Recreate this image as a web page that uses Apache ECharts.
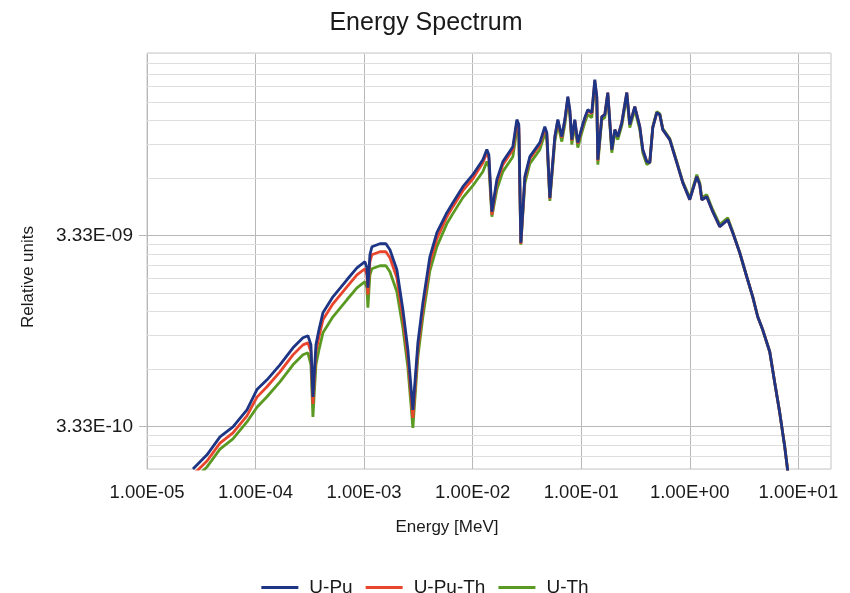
<!DOCTYPE html>
<html>
<head>
<meta charset="utf-8">
<title>Energy Spectrum</title>
<script src="https://cdn.jsdelivr.net/npm/echarts@6/dist/echarts.min.js"></script>
<style>
  html, body { margin: 0; padding: 0; background: #fff; }
  #chart { width: 850px; height: 593px; }
</style>
</head>
<body>
<div id="chart"></div>
<script>
// energy grid [MeV]
const energy = [
  2.65e-5, 3.57e-5, 4.70e-5, 6.19e-5, 8.33e-5, 1.030e-4, 1.274e-4, 1.677e-4, 2.211e-4, 2.733e-4,
  3.038e-4, 3.237e-4, 3.377e-4, 3.600e-4, 3.836e-4, 4.174e-4, 5.161e-4, 6.944e-4, 8.585e-4, 1.017e-3,
  1.061e-3, 1.084e-3, 1.131e-3, 1.180e-3, 1.398e-3, 1.588e-3, 1.729e-3, 2.004e-3, 2.277e-3, 2.532e-3,
  2.814e-3, 3.129e-3, 3.478e-3, 4.036e-3, 4.681e-3, 5.786e-3, 6.571e-3, 8.124e-3, 1.004e-2, 1.241e-2,
  1.351e-2, 1.410e-2, 1.503e-2, 1.670e-2, 1.897e-2, 2.345e-2, 2.553e-2, 2.663e-2, 2.779e-2, 3.025e-2,
  3.363e-2, 4.157e-2, 4.622e-2, 4.822e-2, 5.140e-2, 5.714e-2, 6.089e-2, 6.629e-2, 7.063e-2, 7.526e-2,
  7.852e-2, 8.193e-2, 8.731e-2, 9.305e-2, 1.013e-1, 1.079e-1, 1.150e-1, 1.252e-1, 1.334e-1, 1.392e-1,
  1.422e-1, 1.548e-1, 1.649e-1, 1.757e-1, 1.913e-1, 2.039e-1, 2.173e-1, 2.365e-1, 2.630e-1, 2.803e-1,
  3.116e-1, 3.464e-1, 3.692e-1, 4.019e-1, 4.282e-1, 4.563e-1, 4.968e-1, 5.294e-1, 5.642e-1, 6.543e-1,
  7.592e-1, 8.620e-1, 1.000, 1.160, 1.236, 1.290, 1.434, 1.628, 1.889, 2.238,
  2.489, 2.887, 3.349, 3.803, 4.228, 4.700, 5.453, 6.064, 6.742, 7.497,
  7.990
];

const upu = [
  2.00e-10, 2.37e-10, 2.94e-10, 3.32e-10, 4.07e-10, 5.20e-10, 5.85e-10, 7.01e-10, 8.60e-10, 9.70e-10,
  9.94e-10, 8.92e-10, 4.76e-10, 8.92e-10, 1.068e-9, 1.311e-9, 1.590e-9, 1.952e-9, 2.255e-9, 2.426e-9,
  2.255e-9, 1.773e-9, 2.638e-9, 2.906e-9, 3.013e-9, 3.013e-9, 2.803e-9, 2.202e-9, 1.360e-9, 8.39e-10,
  4.07e-10, 9.14e-10, 1.480e-9, 2.575e-9, 3.44e-9, 4.38e-9, 4.94e-9, 5.99e-9, 6.92e-9, 8.29e-9,
  9.36e-9, 8.81e-9, 4.43e-9, 6.52e-9, 8.10e-9, 9.70e-9, 1.344e-8, 1.265e-8, 3.05e-9, 6.76e-9,
  8.60e-9, 1.018e-8, 1.235e-8, 1.149e-8, 5.24e-9, 1.095e-8, 1.344e-8, 1.095e-8, 1.344e-8, 1.773e-8,
  1.515e-8, 1.056e-8, 1.344e-8, 1.018e-8, 1.220e-8, 1.376e-8, 1.515e-8, 1.462e-8, 2.176e-8, 1.773e-8,
  8.29e-9, 1.393e-8, 1.427e-8, 1.860e-8, 9.36e-9, 1.191e-8, 1.095e-8, 1.296e-8, 1.860e-8, 1.265e-8,
  1.571e-8, 1.235e-8, 9.36e-9, 8.10e-9, 8.00e-9, 1.220e-8, 1.462e-8, 1.427e-8, 1.191e-8, 1.056e-8,
  8.00e-9, 6.29e-9, 5.12e-9, 6.76e-9, 6.13e-9, 5.12e-9, 5.31e-9, 4.43e-9, 3.70e-9, 4.02e-9,
  3.44e-9, 2.703e-9, 2.024e-9, 1.590e-9, 1.250e-9, 1.068e-9, 8.20e-10, 5.64e-10, 3.93e-10, 2.61e-10,
  1.95e-10
];

const uputh = [
  1.86e-10, 2.20e-10, 2.73e-10, 3.09e-10, 3.79e-10, 4.75e-10, 5.38e-10, 6.44e-10, 7.90e-10, 8.91e-10,
  9.13e-10, 8.20e-10, 4.37e-10, 8.20e-10, 9.81e-10, 1.205e-9, 1.461e-9, 1.794e-9, 2.072e-9, 2.229e-9,
  2.072e-9, 1.629e-9, 2.424e-9, 2.639e-9, 2.736e-9, 2.736e-9, 2.545e-9, 2.000e-9, 1.235e-9, 7.62e-10,
  3.70e-10, 8.50e-10, 1.376e-9, 2.395e-9, 3.20e-9, 4.17e-9, 4.71e-9, 5.71e-9, 6.59e-9, 7.99e-9,
  9.02e-9, 8.49e-9, 4.27e-9, 6.29e-9, 7.81e-9, 9.35e-9, 1.296e-8, 1.219e-8, 3.01e-9, 6.60e-9,
  8.39e-9, 9.94e-9, 1.205e-8, 1.121e-8, 5.18e-9, 1.082e-8, 1.328e-8, 1.082e-8, 1.328e-8, 1.752e-8,
  1.497e-8, 1.043e-8, 1.328e-8, 1.006e-8, 1.205e-8, 1.360e-8, 1.497e-8, 1.444e-8, 2.150e-8, 1.752e-8,
  8.19e-9, 1.393e-8, 1.427e-8, 1.860e-8, 9.36e-9, 1.191e-8, 1.095e-8, 1.296e-8, 1.860e-8, 1.265e-8,
  1.571e-8, 1.235e-8, 9.36e-9, 8.10e-9, 8.00e-9, 1.220e-8, 1.462e-8, 1.427e-8, 1.191e-8, 1.056e-8,
  8.00e-9, 6.29e-9, 5.12e-9, 6.76e-9, 6.13e-9, 5.12e-9, 5.31e-9, 4.43e-9, 3.70e-9, 4.02e-9,
  3.44e-9, 2.703e-9, 2.024e-9, 1.590e-9, 1.250e-9, 1.068e-9, 8.20e-10, 5.64e-10, 3.93e-10, 2.61e-10,
  1.95e-10
];

const uth = [
  1.73e-10, 2.05e-10, 2.54e-10, 2.87e-10, 3.52e-10, 4.20e-10, 4.77e-10, 5.71e-10, 7.01e-10, 7.91e-10,
  8.10e-10, 7.01e-10, 3.74e-10, 7.01e-10, 8.39e-10, 1.030e-9, 1.250e-9, 1.534e-9, 1.772e-9, 1.907e-9,
  1.772e-9, 1.394e-9, 2.073e-9, 2.229e-9, 2.311e-9, 2.311e-9, 2.150e-9, 1.689e-9, 1.095e-9, 6.75e-10,
  3.28e-10, 7.72e-10, 1.251e-9, 2.176e-9, 2.91e-9, 3.84e-9, 4.33e-9, 5.25e-9, 6.06e-9, 7.17e-9,
  8.10e-9, 7.62e-9, 4.17e-9, 5.78e-9, 7.18e-9, 8.59e-9, 1.191e-8, 1.121e-8, 2.98e-9, 6.21e-9,
  7.90e-9, 9.36e-9, 1.135e-8, 1.056e-8, 5.05e-9, 1.031e-8, 1.266e-8, 1.031e-8, 1.266e-8, 1.670e-8,
  1.427e-8, 9.95e-9, 1.266e-8, 9.59e-9, 1.149e-8, 1.296e-8, 1.427e-8, 1.377e-8, 2.050e-8, 1.670e-8,
  7.81e-9, 1.343e-8, 1.376e-8, 1.793e-8, 9.02e-9, 1.148e-8, 1.056e-8, 1.249e-8, 1.793e-8, 1.219e-8,
  1.514e-8, 1.191e-8, 9.02e-9, 7.81e-9, 8.00e-9, 1.235e-8, 1.479e-8, 1.444e-8, 1.205e-8, 1.069e-8,
  8.10e-9, 6.37e-9, 5.24e-9, 6.92e-9, 6.28e-9, 5.24e-9, 5.44e-9, 4.54e-9, 3.79e-9, 4.12e-9,
  3.48e-9, 2.703e-9, 2.024e-9, 1.590e-9, 1.250e-9, 1.068e-9, 8.20e-10, 5.64e-10, 3.93e-10, 2.61e-10,
  1.95e-10
];

const seriesNames = ['U-Pu', 'U-Pu-Th', 'U-Th'];
const seriesColors = ['#1d3584', '#e8452c', '#5a9a22'];

const xTicks = [1e-5, 1e-4, 1e-3, 1e-2, 1e-1, 1e0, 1e1];
const yMajorTicks = [3.33e-10, 3.33e-9];
const yMinorTicks = [
  2.00e-10, 2.33e-10, 2.66e-10, 3.00e-10,
  6.66e-10, 9.99e-10, 1.332e-9, 1.665e-9, 1.998e-9, 2.331e-9, 2.664e-9, 2.997e-9,
  6.66e-9, 9.99e-9, 1.332e-8, 1.665e-8, 1.998e-8, 2.331e-8, 2.664e-8, 2.997e-8
];

const X_MIN = 1e-5, X_MAX = 20;
const Y_MIN = 1.998e-10, Y_MAX = 2.997e-8;

const FONT = 'Liberation Sans, Arial, sans-serif';
const TEXT = '#1a1a1a';

// 1.00E-05 style labels
function fmtExp(v) {
  const s = Number(v).toExponential(2).toUpperCase();
  const m = s.match(/^(.*)E([+-])(\d+)$/);
  if (!m) return s;
  return m[1] + 'E' + m[2] + (m[3].length < 2 ? '0' + m[3] : m[3]);
}

function pairs(ys) {
  return energy.map((e, i) => [e, ys[i]]);
}

const chart = echarts.init(document.getElementById('chart'), null, { renderer: 'canvas' });

chart.setOption({
  animation: false,
  backgroundColor: '#fff',
  textStyle: { fontFamily: FONT },
  title: {
    text: 'Energy Spectrum',
    left: 421,
    textAlign: 'center',
    top: 6,
    textStyle: { fontFamily: FONT, fontSize: 25, fontWeight: 'normal', color: TEXT }
  },
  legend: {
    bottom: -9,
    left: 'center',
    icon: 'rect',
    itemWidth: 37,
    itemHeight: 3,
    itemGap: 13,
    data: seriesNames,
    textStyle: { fontFamily: FONT, fontSize: 19, color: TEXT, padding: [0, 0, 0, 6] }
  },
  grid: {
    left: 147,
    right: 19,
    top: 53,
    bottom: 124,
    show: true,
    borderColor: '#c4c4c4',
    borderWidth: 1
  },
  xAxis: {
    type: 'log',
    min: X_MIN,
    max: X_MAX,
    name: 'Energy [MeV]',
    nameLocation: 'middle',
    nameGap: 50,
    nameTextStyle: { fontFamily: FONT, fontSize: 17, color: TEXT, padding: [0, 84, 0, 0] },
    axisLine: { show: false },
    axisTick: { show: false, customValues: xTicks },
    axisLabel: {
      customValues: xTicks,
      formatter: fmtExp,
      margin: 14,
      fontFamily: FONT,
      fontSize: 18.5,
      color: TEXT,
      showMinLabel: true,
      showMaxLabel: true
    },
    splitLine: { show: true, lineStyle: { color: '#b8b8b8', width: 1 } }
  },
  yAxis: [
    {
      type: 'log',
      min: Y_MIN,
      max: Y_MAX,
      name: 'Relative units',
      nameLocation: 'middle',
      nameGap: 110,
      nameTextStyle: { fontFamily: FONT, fontSize: 17, color: TEXT, padding: [0, 32, 0, 0] },
      axisLine: { show: false },
      axisTick: { show: true, length: 8, customValues: yMajorTicks, lineStyle: { color: '#b8b8b8' } },
      axisLabel: {
        customValues: yMajorTicks,
        formatter: fmtExp,
        margin: 14,
        fontFamily: FONT,
        fontSize: 19,
        color: TEXT
      },
      splitLine: { show: true, lineStyle: { color: '#b8b8b8', width: 1 } },
      z: 3
    },
    {
      type: 'log',
      min: Y_MIN,
      max: Y_MAX,
      position: 'left',
      axisLine: { show: false },
      axisTick: { show: false, customValues: yMinorTicks },
      axisLabel: { show: false, customValues: yMinorTicks },
      splitLine: { show: true, lineStyle: { color: '#dedede', width: 1 } },
      z: 1
    }
  ],
  series: [upu, uputh, uth].map((ys, i) => ({
    name: seriesNames[i],
    type: 'line',
    data: pairs(ys),
    yAxisIndex: 0,
    showSymbol: false,
    symbol: 'none',
    color: seriesColors[i],
    lineStyle: { width: 2.8, color: seriesColors[i] },
    z: 10 - i
  }))
});
</script>
</body>
</html>
